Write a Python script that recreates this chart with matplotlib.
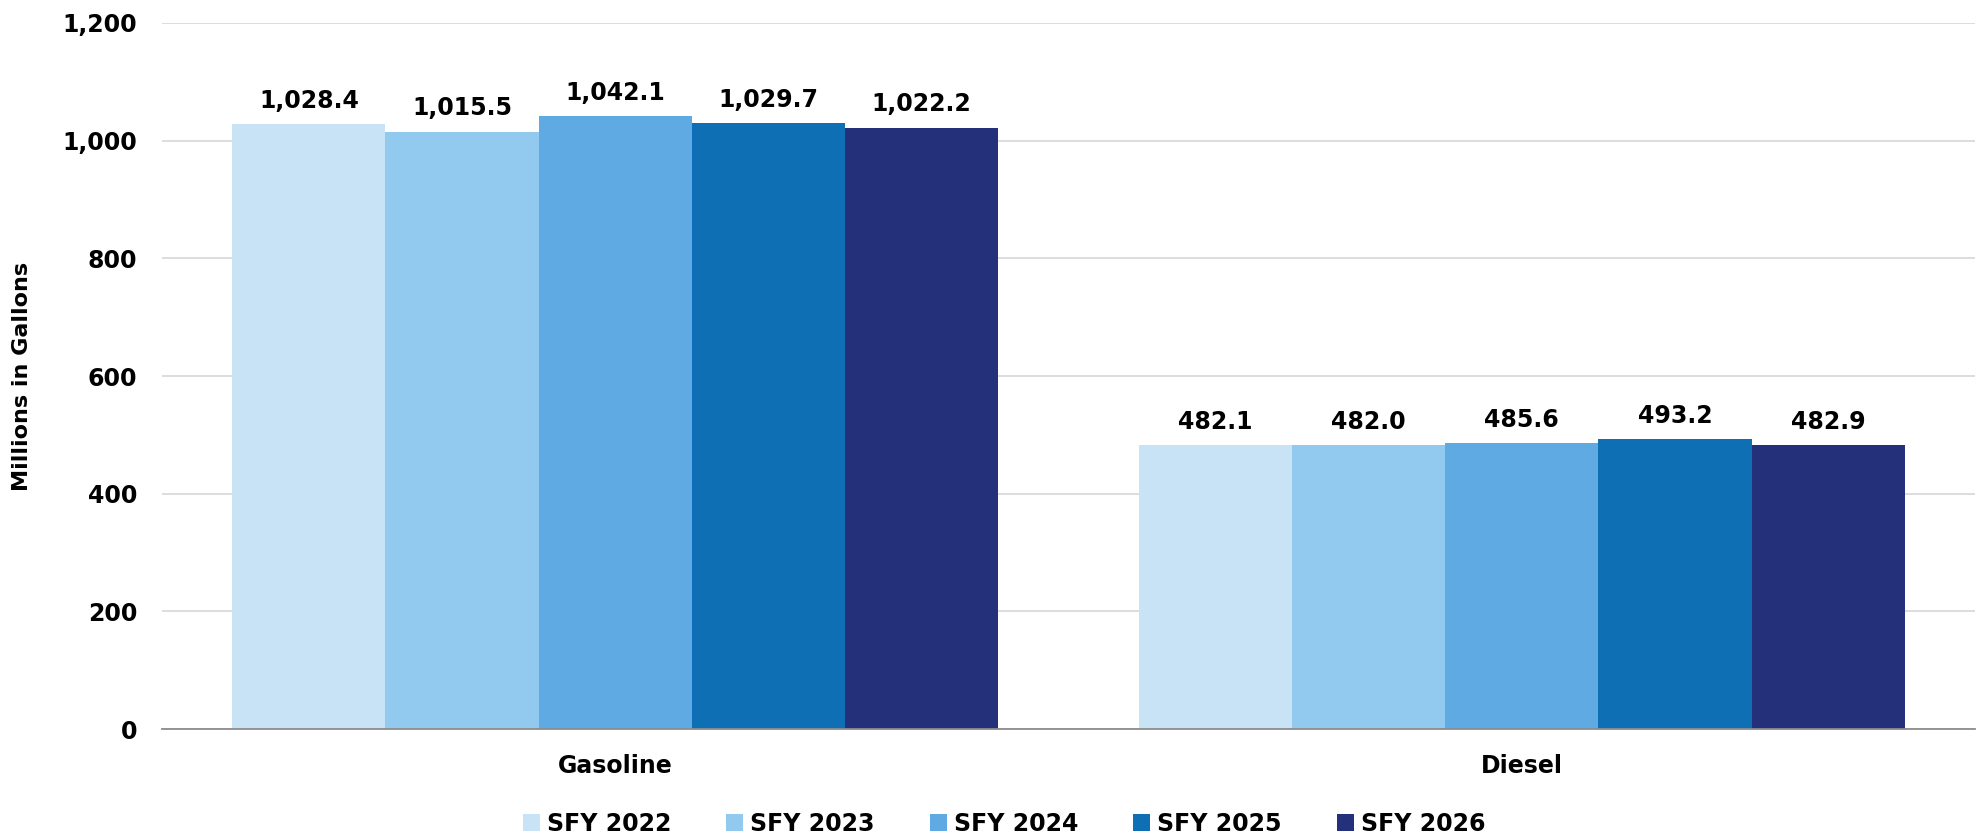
import matplotlib
matplotlib.use("Agg")
import matplotlib.pyplot as plt
import numpy as np

categories = ["Gasoline", "Diesel"]
series_names = ["SFY 2022", "SFY 2023", "SFY 2024", "SFY 2025", "SFY 2026"]
values = {
    "SFY 2022": [1028.4, 482.1],
    "SFY 2023": [1015.5, 482.0],
    "SFY 2024": [1042.1, 485.6],
    "SFY 2025": [1029.7, 493.2],
    "SFY 2026": [1022.2, 482.9],
}
colors = ["#C7E3F5", "#92C9EE", "#60AAE4", "#0F6FB4", "#24307A"]
yticks = [0, 200, 400, 600, 800, 1000, 1200]

plt.rcParams['font.family'] = ['DejaVu Sans']
FW = 'bold'

fig = plt.figure(figsize=(19.88, 8.38), dpi=100)
ax = fig.add_axes([0.0815, 0.130, 0.912, 0.8426])

x = np.arange(len(categories))
group_w = 0.845
bw = group_w / len(series_names)
for i, (name, c) in enumerate(zip(series_names, colors)):
    pos = x - group_w / 2 + bw * (i + 0.5)
    bars = ax.bar(pos, values[name], width=bw, color=c, label=name, zorder=3)
    for b, v in zip(bars, values[name]):
        ax.annotate(f"{v:,.1f}", (b.get_x() + b.get_width() / 2, v),
                    xytext=(0, 8), textcoords="offset points",
                    ha="center", va="bottom", fontsize=17, fontweight=FW)

ax.set_xlim(-0.5, 1.5)
ax.set_ylim(0, 1200)
ax.set_yticks(yticks)
ax.set_yticklabels([f"{t:,}" for t in yticks], fontsize=17, fontweight=FW)
ax.set_xticks(x)
ax.set_xticklabels(categories, fontsize=17, fontweight=FW)
ax.tick_params(axis='both', length=0)
ax.tick_params(axis='y', pad=18)
ax.tick_params(axis='x', pad=18)
ax.grid(axis='y', color='#DDDDDD', linewidth=1.4, zorder=0)
for s in ['top', 'right', 'left']:
    ax.spines[s].set_visible(False)
ax.spines['bottom'].set_color('#8C8C8C')
ax.spines['bottom'].set_linewidth(1.3)
ax.spines['bottom'].set_zorder(4)
ax.set_ylabel("Millions in Gallons", fontsize=16, fontweight=FW)
ax.yaxis.set_label_coords(-0.0715, 0.5)

fig.legend(loc='center', bbox_to_anchor=(0.505, 0.017), ncol=5, frameon=False,
           prop={'size': 17, 'weight': FW}, handlelength=0.72, handleheight=0.72,
           handletextpad=0.3, columnspacing=2.33)

fig.savefig("out.png", dpi=100)
